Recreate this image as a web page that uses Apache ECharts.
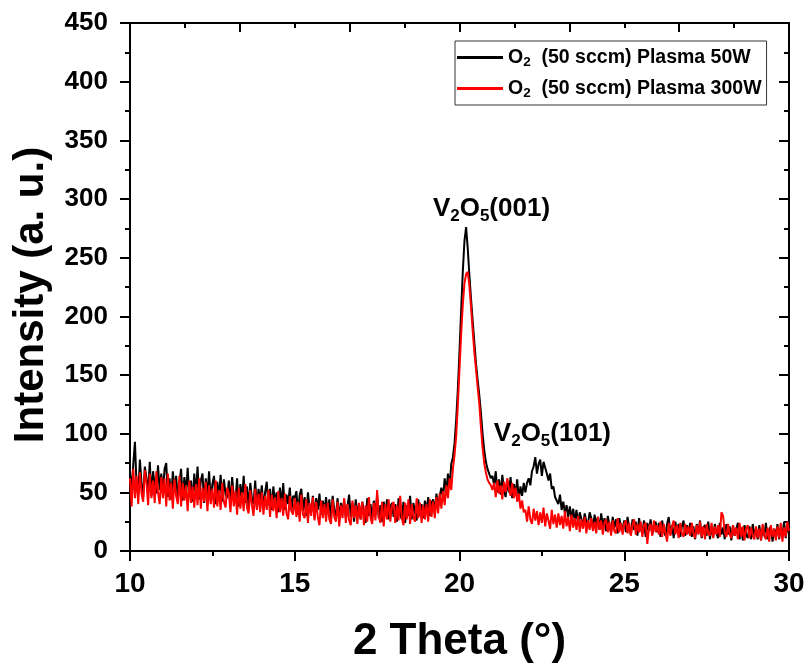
<!DOCTYPE html>
<html>
<head>
<meta charset="utf-8">
<script src="https://cdn.jsdelivr.net/npm/echarts@6/dist/echarts.min.js"></script>
<style>html,body{margin:0;padding:0;background:#fff;}#c{width:808px;height:669px;}</style>
</head>
<body>
<div id="c"></div>
<script>
// 2-theta sampling grid
const thetaStart = 10;
const thetaStep = 0.05;

const seriesNames = ['O2 (50 sccm) Plasma 50W', 'O2 (50 sccm) Plasma 300W'];

// O2 50W (black), 10.00 .. 30.00 step 0.05
const plasma50W = [
68,50,74,93,55,48,78,58,46,72,62,50,76,47,68,56,49,73,52,66,
50,70,75,46,62,44,68,52,64,45,58,70,43,63,49,71,46,60,42,66,
48,72,44,60,66,41,62,47,68,43,57,64,40,59,46,65,42,61,48,45,
60,40,63,46,43,62,38,57,44,64,41,55,37,58,45,40,60,37,53,42,
56,36,50,59,39,53,35,55,41,50,33,54,38,58,35,48,40,54,34,47,
45,51,31,48,53,34,46,30,50,37,33,47,28,45,35,49,31,43,34,46,
32,44,27,47,35,30,45,26,41,33,43,28,38,48,29,41,25,44,31,40,
27,42,33,24,45,30,40,26,43,31,47,28,39,25,42,30,44,27,37,41,
29,40,25,45,31,27,42,24,39,30,47,27,41,33,26,44,30,40,28,43,
33,46,30,41,44,33,49,37,47,54,45,62,50,66,55,74,80,92,112,138,
170,205,238,264,276,258,235,215,196,178,160,146,133,118,100,86,76,70,66,62,
64,56,68,50,61,48,65,52,46,60,50,63,45,57,48,61,44,55,47,58,
50,58,62,56,68,72,80,66,74,78,64,76,77,66,60,66,53,55,46,47,
40,48,35,42,32,39,29,38,27,36,25,35,23,33,27,22,32,25,23,33,
28,19,31,22,29,18,32,21,28,17,30,22,16,29,20,27,15,28,21,19,
26,16,29,20,14,27,18,25,13,28,19,15,26,12,24,17,27,14,22,25,
16,24,12,26,17,13,23,29,14,22,11,25,16,23,12,21,26,13,22,15,
24,12,21,10,23,15,26,11,20,22,13,25,10,21,12,23,15,11,24,14,
20,10,23,14,21,9,22,13,19,24,10,20,9,22,14,11,21,10,23,13,
19,10,22,9,20,13,24,10,18,21,8,19,12,23,10,20,13,25,11,21,
16
];

// O2 300W (red), 10.00 .. 30.00 step 0.05
const plasma300W = [
62,38,70,45,64,40,67,49,42,69,58,39,66,45,60,41,68,50,40,63,
45,62,38,66,43,58,36,61,47,40,64,38,58,43,56,34,60,41,55,37,
57,39,62,36,54,42,59,34,56,40,53,37,60,38,52,35,58,42,37,54,
49,33,56,38,51,31,54,36,50,34,57,37,32,52,39,30,53,35,49,33,
50,31,47,35,52,29,48,34,46,28,51,33,45,30,49,32,27,47,34,31,
45,29,42,25,48,31,28,44,24,41,30,46,26,42,29,22,43,28,40,25,
41,27,23,44,29,25,42,21,39,28,45,24,40,26,22,43,28,39,23,41,
27,42,22,39,25,46,28,23,41,26,52,29,24,42,21,40,27,44,25,38,
42,24,39,26,47,28,22,41,27,44,23,40,29,25,45,28,41,24,39,27,
40,25,44,29,42,28,46,32,49,36,51,39,56,45,62,52,70,82,98,125,
155,185,210,228,236,238,226,208,188,170,155,140,126,106,88,75,67,61,58,56,
52,58,46,60,49,56,44,59,50,62,53,47,58,45,54,42,49,36,43,33,
35,25,38,27,23,36,26,34,22,33,24,37,21,32,26,19,35,23,31,20,
32,22,30,19,34,21,29,17,31,20,28,18,30,16,27,19,29,15,26,18,
28,17,25,15,29,18,26,14,24,27,16,25,13,26,17,15,28,16,24,14,
23,26,15,24,13,22,27,14,23,16,25,12,22,24,6,20,23,13,26,16,
22,14,25,12,23,15,8,24,13,21,26,14,22,11,24,15,12,23,14,21,
13,24,15,11,22,14,25,12,21,10,23,15,13,24,11,21,14,22,12,33,
30,16,12,23,14,11,22,13,20,10,24,12,21,9,19,22,11,20,13,10,
21,11,19,9,23,13,10,20,8,22,12,19,9,21,11,24,8,20,12,25,
17
];

const yTicks = {min: 0, max: 450, interval: 50};
const xTicks = {min: 10, max: 30, interval: 5};

function toPairs(vals) {
  return vals.map((v, i) => [+(thetaStart + i * thetaStep).toFixed(2), v]);
}

const FONT = '"Liberation Sans", Arial, sans-serif';
const chart = echarts.init(document.getElementById('c'), null, {renderer: 'canvas'});

const axisLineStyle = {color: '#000', width: 2};

const legendRich = {
  b: {fontSize: 19.5, fontWeight: 'bold', fontFamily: FONT, color: '#000', lineHeight: 22},
  s: {fontSize: 13.5, fontWeight: 'bold', fontFamily: FONT, color: '#000', lineHeight: 13, padding: [9, 0, 0, 0]}
};
const annRich = {
  b: {fontSize: 26, fontWeight: 'bold', fontFamily: FONT, color: '#000', lineHeight: 34},
  s: {fontSize: 17, fontWeight: 'bold', fontFamily: FONT, color: '#000', lineHeight: 17, padding: [16, 0, 0, 0]}
};

chart.setOption({
  animation: false,
  backgroundColor: '#fff',
  grid: {left: 130, right: 19, top: 23, bottom: 115, containLabel: false},
  legend: {
    orient: 'vertical',
    left: 455, top: 41,
    padding: [5, 5, 5, 2],
    itemGap: 8,
    icon: 'rect',
    itemWidth: 46, itemHeight: 3,
    borderColor: '#333', borderWidth: 1,
    data: seriesNames,
    formatter: function (name) {
      return '{b|O}{s|2}{b|  ' + name.slice(3) + '}';
    },
    textStyle: {rich: legendRich, padding: [0, 0, 0, 0]}
  },
  xAxis: [{
    type: 'value', position: 'bottom',
    min: xTicks.min, max: xTicks.max, interval: xTicks.interval,
    name: '2 Theta (°)', nameLocation: 'middle', nameGap: 69,
    nameTextStyle: {fontSize: 44, fontWeight: 'bold', fontFamily: FONT, color: '#000'},
    axisLine: {show: true, onZero: false, lineStyle: axisLineStyle},
    axisTick: {show: true, inside: false, length: 10, lineStyle: {color: '#000', width: 2}},
    minorTick: {show: true, splitNumber: 2, length: 5, lineStyle: {color: '#000', width: 2}},
    axisLabel: {fontSize: 28, fontWeight: 'bold', fontFamily: FONT, color: '#000', margin: 19},
    splitLine: {show: false}
  }, {
    type: 'value', position: 'top',
    min: 3, max: 9, interval: 1,
    axisLine: {show: true, onZero: false, lineStyle: axisLineStyle},
    axisTick: {show: true, inside: true, length: 9, lineStyle: {color: '#000', width: 2}},
    minorTick: {show: true, splitNumber: 2, length: 5, lineStyle: {color: '#000', width: 2}},
    axisLabel: {show: false},
    splitLine: {show: false}
  }],
  yAxis: [{
    type: 'value', position: 'left',
    min: yTicks.min, max: yTicks.max, interval: yTicks.interval,
    name: 'Intensity (a. u.)', nameLocation: 'middle', nameGap: 78,
    nameTextStyle: {fontSize: 42, fontWeight: 'bold', fontFamily: FONT, color: '#000', padding: [0, 16, 0, 0]},
    axisLine: {show: true, onZero: false, lineStyle: axisLineStyle},
    axisTick: {show: true, inside: false, length: 10, lineStyle: {color: '#000', width: 2}},
    minorTick: {show: true, splitNumber: 2, length: 5, lineStyle: {color: '#000', width: 2}},
    axisLabel: {fontSize: 26, fontWeight: 'bold', fontFamily: FONT, color: '#000', margin: 22},
    splitLine: {show: false}
  }, {
    type: 'value', position: 'right',
    min: yTicks.min, max: yTicks.max, interval: yTicks.interval,
    axisLine: {show: true, onZero: false, lineStyle: axisLineStyle},
    axisTick: {show: true, inside: true, length: 10, lineStyle: {color: '#000', width: 2}},
    minorTick: {show: true, splitNumber: 2, length: 5, lineStyle: {color: '#000', width: 2}},
    axisLabel: {show: false},
    splitLine: {show: false}
  }],
  series: [{
    name: seriesNames[0], type: 'line', xAxisIndex: 0, yAxisIndex: 0,
    data: toPairs(plasma50W), symbol: 'none', showSymbol: false,
    lineStyle: {color: '#000', width: 2}, itemStyle: {color: '#000'},
    z: 2,
    markPoint: {
      symbol: 'circle', symbolSize: 0,
      label: {show: true, position: 'inside', formatter: '{b|V}{s|2}{b|O}{s|5}{b|(001)}', rich: annRich},
      data: [{coord: [20.97, 292]}]
    }
  }, {
    name: seriesNames[1], type: 'line', xAxisIndex: 0, yAxisIndex: 0,
    data: toPairs(plasma300W), symbol: 'none', showSymbol: false,
    lineStyle: {color: '#ff0000', width: 2}, itemStyle: {color: '#ff0000'},
    z: 3,
    markPoint: {
      symbol: 'circle', symbolSize: 0,
      label: {show: true, position: 'inside', formatter: '{b|V}{s|2}{b|O}{s|5}{b|(101)}', rich: annRich},
      data: [{coord: [22.82, 100]}]
    }
  }]
});
</script>
</body>
</html>
